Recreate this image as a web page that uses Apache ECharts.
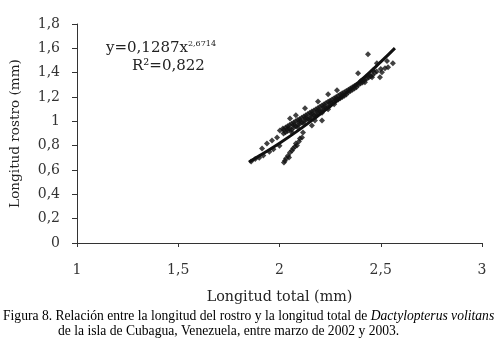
<!DOCTYPE html>
<html>
<head>
<meta charset="utf-8">
<script src="https://cdn.jsdelivr.net/npm/echarts@6/dist/echarts.min.js"></script>
<style>
html,body{margin:0;padding:0;background:#fff;}
#c{width:498px;height:344px;}
</style>
</head>
<body>
<div id="c"></div>
<script>
// X ticks and Y ticks
var xTicks = [1, 1.5, 2, 2.5, 3];
var yTicks = [0, 0.2, 0.4, 0.6, 0.8, 1, 1.2, 1.4, 1.6, 1.8];

// Observed points: main cloud
var cloudPoints = [
  [2.02,0.90],[2.02,0.93],[2.03,0.91],[2.03,0.95],[2.04,0.92],[2.04,0.96],[2.05,0.94],[2.05,0.97],
  [2.06,0.93],[2.06,0.98],[2.07,0.95],[2.07,0.99],[2.08,0.96],[2.08,1.00],[2.09,0.97],[2.09,1.01],
  [2.10,0.98],[2.10,1.02],[2.11,0.99],[2.11,1.03],[2.12,1.00],[2.12,1.04],[2.13,1.01],[2.13,1.05],
  [2.14,1.02],[2.14,1.06],[2.15,1.03],[2.15,1.07],[2.16,1.04],[2.16,1.08],[2.17,1.05],[2.17,1.09],
  [2.18,1.06],[2.18,1.10],[2.19,1.07],[2.19,1.11],[2.20,1.08],[2.20,1.12],[2.21,1.09],[2.21,1.13],
  [2.22,1.10],[2.22,1.14],[2.23,1.11],[2.23,1.15],[2.24,1.12],[2.24,1.16],[2.25,1.13],[2.25,1.17],
  [2.26,1.15],[2.26,1.18],[2.27,1.16],[2.27,1.19],[2.28,1.17],[2.28,1.20],[2.29,1.18],[2.29,1.21],
  [2.30,1.19],[2.30,1.22],[2.31,1.20],[2.31,1.23],[2.32,1.21],[2.32,1.24],[2.33,1.22],[2.33,1.25],
  [2.34,1.24],[2.35,1.25],[2.35,1.27],[2.36,1.26],[2.37,1.27],[2.37,1.29],[2.38,1.28],[2.39,1.30],
  [2.40,1.31],[2.40,1.33],[2.41,1.32],[2.42,1.34],[2.43,1.35],[2.44,1.36],[2.45,1.37],[2.46,1.38],
  [2.47,1.40],[2.48,1.41],[2.50,1.43],
  [2.04,0.94],[2.07,0.97],[2.10,1.00],[2.13,1.03],[2.16,1.06],[2.19,1.09],[2.22,1.12],[2.25,1.15],
  [2.28,1.185],[2.31,1.215],[2.34,1.26],[2.36,1.28],[2.38,1.30],[2.41,1.34],[2.44,1.38],
  [2.06,0.91],[2.09,0.95],[2.12,0.98],[2.15,1.01],[2.18,1.04],[2.21,1.07],[2.24,1.10],[2.27,1.14]
];
// Points above the line on the left
var leftPoints = [
  [1.86,0.67],[1.88,0.69],[1.90,0.70],[1.92,0.72],[1.95,0.75],[1.97,0.77],[2.00,0.80],
  [1.914,0.776],[1.938,0.818],[1.963,0.842],[1.988,0.867],[2.002,0.925],[2.017,0.941],
  [2.052,1.024],[2.081,1.049]
];
// Lower branch
var branchPoints = [
  [2.022,0.661],[2.027,0.677],[2.032,0.694],[2.042,0.718],[2.047,0.702],[2.052,0.743],
  [2.062,0.760],[2.067,0.776],[2.077,0.793],[2.081,0.818],[2.086,0.801],[2.096,0.834],
  [2.101,0.859],[2.111,0.867],[2.116,0.908]
];
// Scattered outliers
var outlierPoints = [
  [2.126,1.107],[2.190,1.164],[2.240,1.222],[2.284,1.255],[2.388,1.396],[2.437,1.552],
  [2.175,1.007],[2.210,1.007],[2.160,0.966],
  [2.462,1.420],[2.481,1.478],[2.531,1.495],[2.560,1.478],[2.536,1.445],[2.506,1.404],
  [2.496,1.363],[2.521,1.437],[2.457,1.363],[2.422,1.321]
];
// Trend line (power fit)
var trendX = [1.85, 1.90, 2.00, 2.10, 2.20, 2.30, 2.40, 2.50, 2.57];
var trendY = [0.666, 0.716, 0.820, 0.934, 1.058, 1.191, 1.334, 1.488, 1.602];

var eqText = 'y=0,1287x';
var eqExp = '2,6714';
var r2Text = 'R\u00B2=0,822';
var xName = 'Longitud total (mm)';
var yName = 'Longitud rostro (mm)';
var caption1a = 'Figura 8. Relaci\u00F3n entre la longitud del rostro y la longitud total de ';
var caption1b = 'Dactylopterus volitans';
var caption2 = 'de la isla de Cubagua, Venezuela, entre marzo de 2002 y 2003.';

var allPoints = cloudPoints.concat(leftPoints, branchPoints, outlierPoints);
var trendData = trendX.map(function(x, i){ return [x, trendY[i]]; });

var chartFont = '"DejaVu Serif",serif';
var capFont = '"Liberation Serif","Times New Roman",serif';
var fmt = function(v){ return String(v).replace('.', ','); };

var chart = echarts.init(document.getElementById('c'));
chart.setOption({
  backgroundColor: '#fff',
  animation: false,
  grid: {left: 77, right: 16, top: 24, bottom: 101},
  xAxis: {
    type: 'value', min: xTicks[0], max: xTicks[xTicks.length-1], interval: 0.5,
    name: xName, nameLocation: 'middle', nameGap: 47,
    nameTextStyle: {fontFamily: chartFont, fontSize: 14.3, color: '#222'},
    axisLine: {lineStyle: {color: '#333', width: 1}},
    axisTick: {show: true, length: 4, lineStyle: {color: '#333'}},
    axisLabel: {fontFamily: chartFont, fontSize: 14, color: '#333', margin: 20, formatter: fmt},
    splitLine: {show: false}
  },
  yAxis: {
    type: 'value', min: yTicks[0], max: yTicks[yTicks.length-1], interval: 0.2,
    name: yName, nameLocation: 'middle', nameGap: 55,
    nameTextStyle: {fontFamily: chartFont, fontSize: 13.6, color: '#222'},
    axisLine: {show: true, lineStyle: {color: '#333', width: 1}},
    axisTick: {show: true, length: 5, lineStyle: {color: '#333'}},
    axisLabel: {fontFamily: chartFont, fontSize: 14, color: '#333', margin: 17,
      formatter: function(v){ return fmt(Math.round(v*10)/10); }},
    splitLine: {show: false}
  },
  series: [
    {
      type: 'line', data: trendData, smooth: true, symbol: 'none',
      lineStyle: {color: '#111', width: 3}, z: 3
    },
    {
      type: 'scatter', data: allPoints, symbol: 'diamond', symbolSize: 6,
      itemStyle: {color: '#111'}, z: 4
    }
  ],
  graphic: [
    {type: 'text', left: 106, top: 40, style: {
      rich: {
        b: {fontFamily: chartFont, fontSize: 15, fill: '#222'},
        s: {fontFamily: chartFont, fontSize: 8, fill: '#222', verticalAlign: 'top', padding: [0,0,8,0]}
      },
      text: '{b|' + eqText + '}{s|' + eqExp + '}'
    }},
    {type: 'text', left: 132, top: 59, style: {
      fontFamily: chartFont, fontSize: 15, fill: '#222', text: r2Text
    }},
    {type: 'text', left: 3, top: 309, style: {
      rich: {
        n: {fontFamily: capFont, fontSize: 13.6, fill: '#000'},
        i: {fontFamily: capFont, fontSize: 13.6, fill: '#000', fontStyle: 'italic'}
      },
      text: '{n|' + caption1a + '}{i|' + caption1b + '}'
    }},
    {type: 'text', left: 58, top: 324, style: {
      fontFamily: capFont, fontSize: 13.6, fill: '#000', text: caption2
    }}
  ]
});
</script>
</body>
</html>
